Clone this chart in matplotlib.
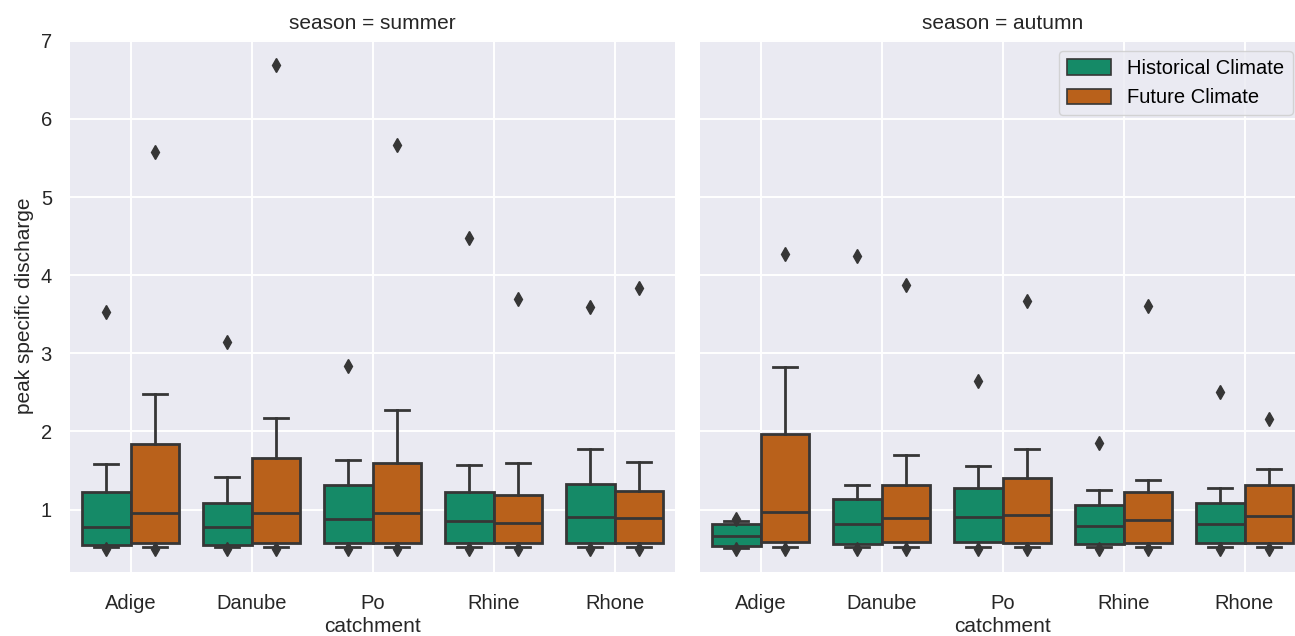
import matplotlib
matplotlib.use("Agg")
import matplotlib.pyplot as plt
from matplotlib.patches import Patch

plt.rcParams["font.family"] = ["Liberation Sans", "DejaVu Sans"]

catchments = ["Adige", "Danube", "Po", "Rhine", "Rhone"]
seasons = ["summer", "autumn"]
climates = ["Historical Climate", "Future Climate"]

# box statistics, one value per catchment
summer_hist_q1 = [0.54, 0.55, 0.565, 0.565, 0.565]
summer_hist_med = [0.77, 0.78, 0.88, 0.85, 0.90]
summer_hist_q3 = [1.22, 1.085, 1.31, 1.22, 1.33]
summer_hist_lo = [0.52, 0.52, 0.52, 0.52, 0.52]
summer_hist_hi = [1.58, 1.41, 1.64, 1.57, 1.78]
summer_hist_fliers = [[0.49, 3.53], [0.49, 3.14], [0.49, 2.84], [0.49, 4.48], [0.49, 3.59]]

summer_fut_q1 = [0.565, 0.57, 0.57, 0.565, 0.565]
summer_fut_med = [0.96, 0.96, 0.96, 0.825, 0.89]
summer_fut_q3 = [1.84, 1.66, 1.60, 1.19, 1.24]
summer_fut_lo = [0.52, 0.52, 0.52, 0.52, 0.52]
summer_fut_hi = [2.48, 2.17, 2.27, 1.59, 1.61]
summer_fut_fliers = [[0.49, 5.58], [0.49, 6.69], [0.49, 5.67], [0.49, 3.69], [0.49, 3.83]]

autumn_hist_q1 = [0.53, 0.56, 0.58, 0.556, 0.565]
autumn_hist_med = [0.66, 0.82, 0.90, 0.79, 0.81]
autumn_hist_q3 = [0.81, 1.14, 1.27, 1.06, 1.08]
autumn_hist_lo = [0.51, 0.52, 0.52, 0.52, 0.52]
autumn_hist_hi = [0.85, 1.31, 1.56, 1.256, 1.28]
autumn_hist_fliers = [[0.49, 0.88], [0.49, 4.25], [0.49, 2.64], [0.49, 1.85], [0.49, 2.50]]

autumn_fut_q1 = [0.58, 0.58, 0.57, 0.565, 0.575]
autumn_fut_med = [0.97, 0.885, 0.936, 0.87, 0.92]
autumn_fut_q3 = [1.97, 1.32, 1.40, 1.23, 1.32]
autumn_fut_lo = [0.52, 0.52, 0.52, 0.52, 0.52]
autumn_fut_hi = [2.82, 1.70, 1.77, 1.38, 1.52]
autumn_fut_fliers = [[0.49, 4.27], [0.49, 3.87], [0.49, 3.67], [0.49, 3.61], [0.49, 2.16]]

data = {
    ("summer", 0): (summer_hist_q1, summer_hist_med, summer_hist_q3, summer_hist_lo, summer_hist_hi, summer_hist_fliers),
    ("summer", 1): (summer_fut_q1, summer_fut_med, summer_fut_q3, summer_fut_lo, summer_fut_hi, summer_fut_fliers),
    ("autumn", 0): (autumn_hist_q1, autumn_hist_med, autumn_hist_q3, autumn_hist_lo, autumn_hist_hi, autumn_hist_fliers),
    ("autumn", 1): (autumn_fut_q1, autumn_fut_med, autumn_fut_q3, autumn_fut_lo, autumn_fut_hi, autumn_fut_fliers),
}

colors = ["#158a67", "#b9611b"]
gray = "#363636"
bg = "#eaeaf2"

fig = plt.figure(figsize=(12.95, 6.36), dpi=100)
ax1 = fig.add_axes([70 / 1295, 64 / 636, 605 / 1295, 532 / 636])
ax2 = fig.add_axes([700 / 1295, 64 / 636, 605 / 1295, 532 / 636], sharey=ax1)

lw = 2.0
for ax, season in zip([ax1, ax2], seasons):
    ax.set_facecolor(bg)
    ax.set_axisbelow(True)
    ax.grid(True, color="white", linewidth=1.4)
    for s in ax.spines.values():
        s.set_visible(False)
    for h in range(2):
        q1, med, q3, lo, hi, fl = data[(season, h)]
        stats = []
        for i in range(len(catchments)):
            stats.append(dict(med=med[i], q1=q1[i], q3=q3[i], whislo=lo[i],
                              whishi=hi[i], fliers=fl[i]))
        pos = [i - 0.2 + 0.4 * h for i in range(len(catchments))]
        ax.bxp(stats, positions=pos, widths=0.4, patch_artist=True,
               manage_ticks=False,
               boxprops=dict(facecolor=colors[h], edgecolor=gray, linewidth=lw),
               medianprops=dict(color=gray, linewidth=lw),
               whiskerprops=dict(color=gray, linewidth=lw),
               capprops=dict(color=gray, linewidth=lw),
               flierprops=dict(marker="d", markerfacecolor=gray, markeredgecolor=gray,
                               markersize=7, linestyle="none"))
    ax.set_xticks(range(len(catchments)))
    ax.set_xticklabels(catchments)
    ax.set_xlim(-0.5, len(catchments) - 0.5)
    ax.tick_params(axis="both", length=0, labelsize=14.5, colors="#262626")
    ax.tick_params(axis="x", pad=16)
    ax.tick_params(axis="y", pad=13)
    ax.set_xlabel("catchment", fontsize=15, color="#262626", labelpad=3)
    ax.set_title("season = " + season, fontsize=15, color="#262626", pad=8)

ax1.set_ylim(0.2, 7.01)
ax1.set_yticks([1, 2, 3, 4, 5, 6, 7])
ax1.set_ylabel("peak specific discharge", fontsize=15, color="#262626", labelpad=5)
ax2.tick_params(axis="y", labelleft=False)

handles = [Patch(facecolor=colors[i], edgecolor=gray, linewidth=1.2, label=climates[i]) for i in range(2)]
leg = ax2.legend(handles=handles, loc="upper right", bbox_to_anchor=(0.996, 0.998),
                 fontsize=14.5, frameon=True, facecolor=bg, edgecolor="#cccccc",
                 handlelength=2.2, handleheight=0.8)

fig.savefig("out.png", dpi=100)
